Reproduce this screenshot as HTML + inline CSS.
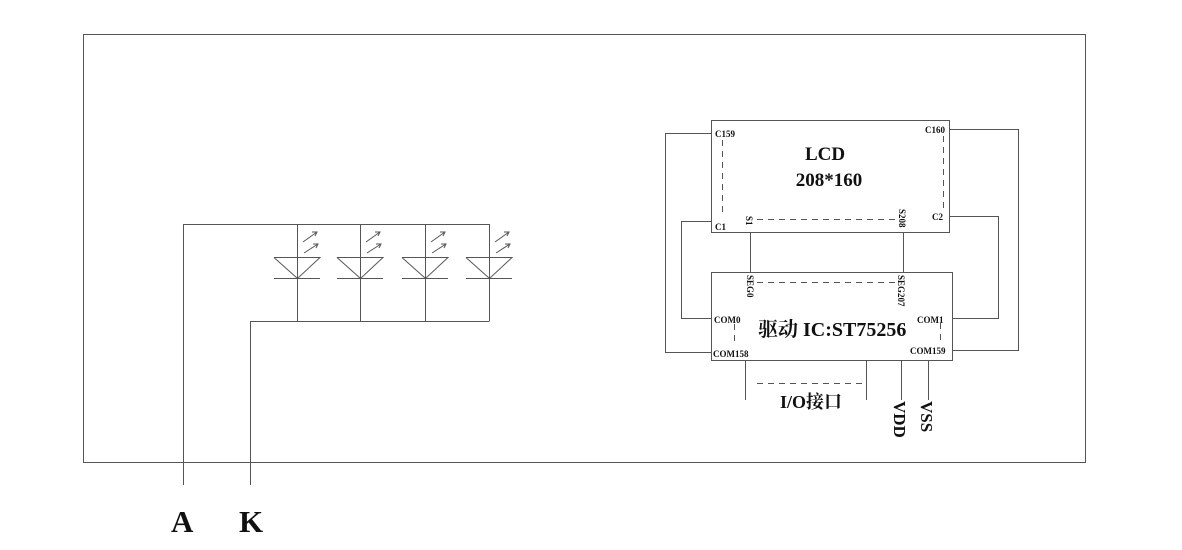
<!DOCTYPE html>
<html><head><meta charset="utf-8"><style>
body{margin:0;background:#fff}
svg text{font-family:"Liberation Serif","Noto Serif CJK SC",serif;font-weight:bold;fill:#111}
</style></head><body>
<svg width="1182" height="545" viewBox="0 0 1182 545" xmlns="http://www.w3.org/2000/svg">
<g stroke="#555" stroke-width="1" fill="none">
<rect x="83.5" y="34.5" width="1002" height="428"/>
<polyline points="183.5,485 183.5,224.5 489.5,224.5"/>
<polyline points="250.5,485 250.5,321.5 489.5,321.5"/>
<g id="led">
<line x1="297.5" y1="224" x2="297.5" y2="321"/>
<polyline points="274,257.5 320,257.5 297.5,278.5 274,257.5"/>
<line x1="274" y1="278.5" x2="320" y2="278.5"/>
<line x1="303" y1="242" x2="317" y2="232"/><polyline points="312,232 317,232 315,236"/>
<line x1="304" y1="253" x2="318" y2="244"/><polyline points="313,244 318,244 316,248"/>
</g>
<use href="#led" x="63"/><use href="#led" x="128"/><use href="#led" x="192"/>
<rect x="711.5" y="120.5" width="238" height="112"/>
<rect x="711.5" y="272.5" width="241" height="88"/>
<polyline points="711,133.5 665.5,133.5 665.5,352.5 711,352.5"/>
<polyline points="711,221.5 681.5,221.5 681.5,318.5 711,318.5"/>
<polyline points="949,129.5 1018.5,129.5 1018.5,350.5 952,350.5"/>
<polyline points="949,216.5 998.5,216.5 998.5,318.5 952,318.5"/>
<line x1="750.5" y1="232" x2="750.5" y2="272"/>
<line x1="903.5" y1="232" x2="903.5" y2="272"/>
<line x1="745.5" y1="360" x2="745.5" y2="400"/>
<line x1="866.5" y1="360" x2="866.5" y2="400"/>
<line x1="901.5" y1="360" x2="901.5" y2="400"/>
<line x1="928.5" y1="360" x2="928.5" y2="400"/>
<g stroke-dasharray="6,5">
<line x1="722.5" y1="140" x2="722.5" y2="216"/>
<line x1="943.5" y1="136" x2="943.5" y2="212"/>
<line x1="757" y1="219.5" x2="898" y2="219.5"/>
<line x1="757" y1="282.5" x2="898" y2="282.5"/>
<line x1="734.5" y1="324" x2="734.5" y2="346"/>
<line x1="940.5" y1="323" x2="940.5" y2="345"/>
<line x1="757" y1="383.5" x2="862" y2="383.5"/>
</g>
</g>
<g font-size="9">
<text x="715" y="137">C159</text>
<text x="925" y="133">C160</text>
<text x="715" y="230">C1</text>
<text x="932" y="220">C2</text>
<text x="714" y="323">COM0</text>
<text x="917" y="323">COM1</text>
<text x="713" y="357">COM158</text>
<text x="910" y="354">COM159</text>
<text transform="translate(746,216) rotate(90)">S1</text>
<text transform="translate(899,209) rotate(90)">S208</text>
<text transform="translate(747,275) rotate(90)">SEG0</text>
<text transform="translate(898,275) rotate(90)">SEG207</text>
</g>
<text x="825" y="160" font-size="19" text-anchor="middle">LCD</text>
<text x="829" y="186" font-size="19" text-anchor="middle">208*160</text>
<text x="758" y="336" font-size="20">驱动 IC:ST75256</text>
<text x="780" y="408" font-size="18">I/O接口</text>
<text transform="translate(894,401) rotate(90)" font-size="17">VDD</text>
<text transform="translate(921,401) rotate(90)" font-size="17">VSS</text>
<text x="171" y="532" font-size="31">A</text>
<text x="239" y="532" font-size="31">K</text>
</svg>
</body></html>
